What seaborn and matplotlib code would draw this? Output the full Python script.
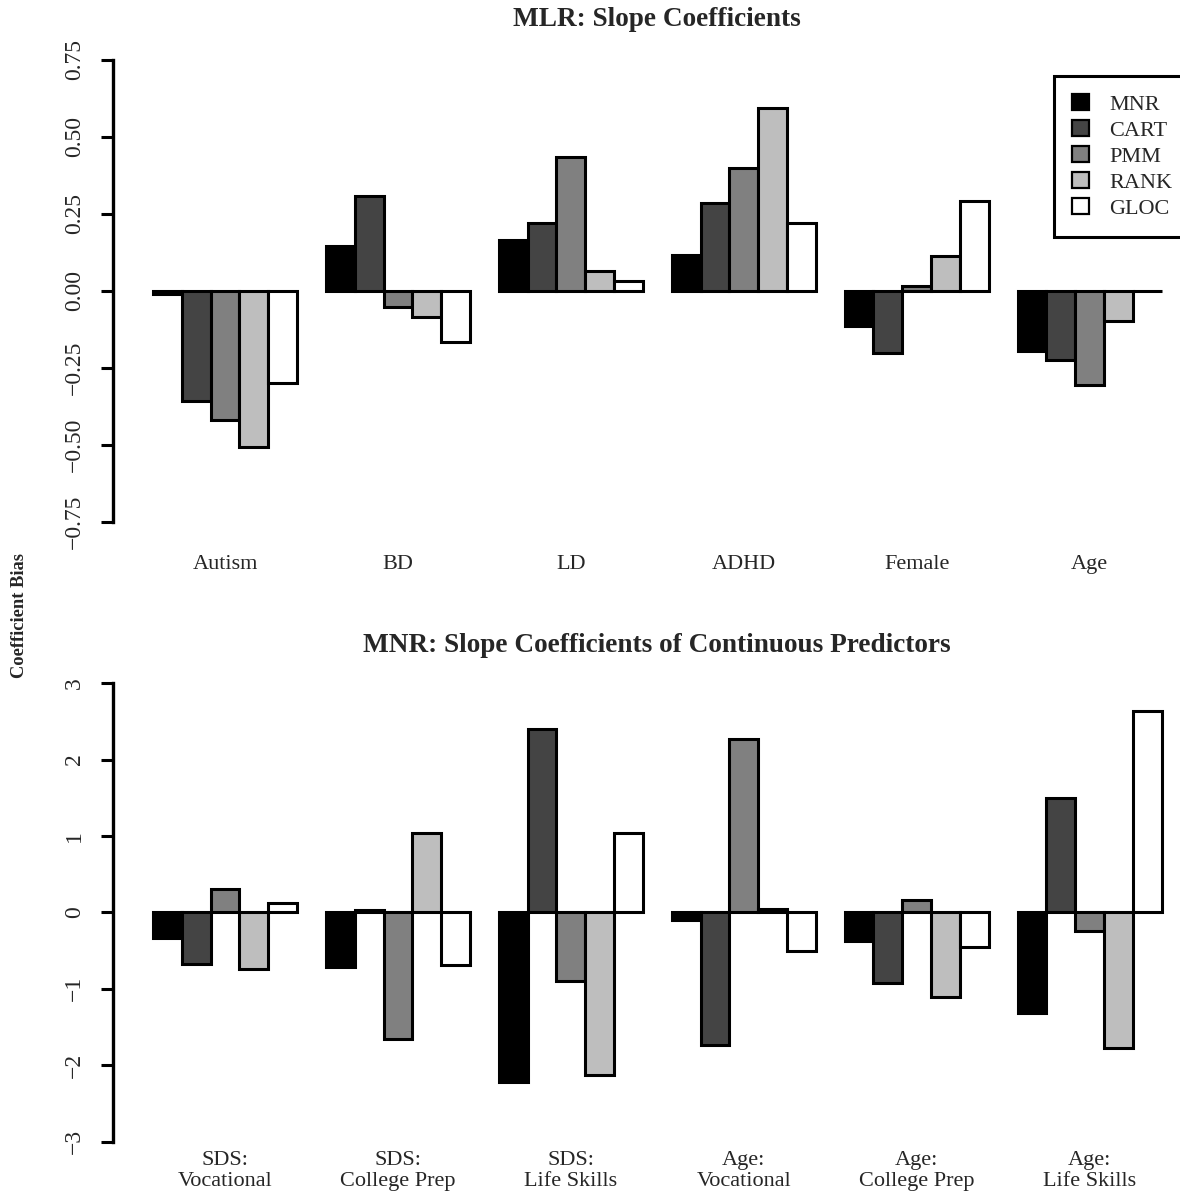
import numpy as np
import pandas as pd
import matplotlib
matplotlib.use('Agg')
import matplotlib.pyplot as plt
from matplotlib.patches import Patch
import seaborn as sns

# bias values
methods = ["MNR", "CART", "PMM", "RANK", "GLOC"]
method_colors = ["#000000", "#444444", "#808080", "#BEBEBE", "#FFFFFF"]

mlr_predictors = ["Autism", "BD", "LD", "ADHD", "Female", "Age"]
mlr_mnr = [-0.01, 0.145, 0.164, 0.116, -0.114, -0.195]
mlr_cart = [-0.358, 0.308, 0.219, 0.286, -0.203, -0.225]
mlr_pmm = [-0.42, -0.052, 0.434, 0.398, 0.015, -0.308]
mlr_rank = [-0.509, -0.087, 0.065, 0.592, 0.113, -0.098]
mlr_gloc = [-0.30, -0.166, 0.03, 0.221, 0.292, 0.0]

mnr_predictors = ["SDS:\nVocational", "SDS:\nCollege Prep", "SDS:\nLife Skills",
                  "Age:\nVocational", "Age:\nCollege Prep", "Age:\nLife Skills"]
mnr_mnr = [-0.34, -0.72, -2.224, -0.10, -0.37, -1.313]
mnr_cart = [-0.68, 0.03, 2.403, -1.736, -0.92, 1.491]
mnr_pmm = [0.30, -1.657, -0.898, 2.263, 0.161, -0.244]
mnr_rank = [-0.746, 1.038, -2.128, 0.04, -1.112, -1.779]
mnr_gloc = [0.118, -0.693, 1.034, -0.50, -0.458, 2.634]

mlr_ticks = [-0.75, -0.5, -0.25, 0, 0.25, 0.5, 0.75]
mlr_ticklabels = ["\u22120.75", "\u22120.50", "\u22120.25", "0.00", "0.25", "0.50", "0.75"]
mnr_ticks = [-3, -2, -1, 0, 1, 2, 3]
mnr_ticklabels = ["\u22123", "\u22122", "\u22121", "0", "1", "2", "3"]


def to_long(predictors, series):
    rows = []
    for m, vals in zip(methods, series):
        for p, v in zip(predictors, vals):
            rows.append({"predictor": p, "method": m, "bias": v})
    return pd.DataFrame(rows)


mlr_df = to_long(mlr_predictors, [mlr_mnr, mlr_cart, mlr_pmm, mlr_rank, mlr_gloc])
mnr_df = to_long(mnr_predictors, [mnr_mnr, mnr_cart, mnr_pmm, mnr_rank, mnr_gloc])

sns.set_style("white")
plt.rcParams['font.family'] = ['Liberation Serif', 'DejaVu Serif']

W, H = 1180, 1204
fig = plt.figure(figsize=(W / 100, H / 100), dpi=100)

FS = 16
FS_Y = 17
left = 112.7 / W
width = (1202 - 112.7) / W


def draw_panel(ax, df, order, ticks, ticklabels, lim, span, label_pad, linespacing=1.2):
    sns.barplot(data=df, x="predictor", y="bias", hue="method", order=order,
                hue_order=methods, palette=method_colors, saturation=1,
                width=5 / 6, edgecolor="black", linewidth=2.2, errorbar=None,
                legend=False, ax=ax)
    ax.set_xlim(-0.65, 5.65)
    ax.set_ylim(-lim, lim)
    for s in ["top", "right", "bottom"]:
        ax.spines[s].set_visible(False)
    ax.spines["left"].set_bounds(-span, span)
    ax.spines["left"].set_linewidth(2.4)
    ax.spines["left"].set_color("black")
    ax.set_yticks(ticks)
    ax.set_yticklabels(ticklabels, rotation=90, va="center", ha="center", fontsize=FS_Y)
    ax.tick_params(axis="y", left=True, length=8.6, width=2.2, color="black", pad=19)
    ax.tick_params(axis="x", bottom=False, length=0, pad=label_pad)
    ax.set_xticks(range(len(order)))
    ax.set_xticklabels(order, fontsize=FS, va="center", linespacing=linespacing)
    ax.set_xlabel("")
    ax.set_ylabel("")
    ax.grid(False)


ax1 = fig.add_axes([left, 1 - 540 / H, width, (540 - 41.2) / H])
draw_panel(ax1, mlr_df, mlr_predictors, mlr_ticks, mlr_ticklabels, 0.81, 0.75, 17.3)

ax2 = fig.add_axes([left, 1 - 1159.9 / H, width, (1159.9 - 664.8) / H])
draw_panel(ax2, mnr_df, mnr_predictors, mnr_ticks, mnr_ticklabels, 3.24, 3, 8.0, 1.15)

handles = [Patch(facecolor=c, edgecolor="black", linewidth=1.6) for c in method_colors]
leg = ax1.legend(handles, methods, loc="upper left",
                 bbox_to_anchor=(1054 / W, 1 - 76 / H), bbox_transform=fig.transFigure,
                 borderaxespad=0, fontsize=FS, handlelength=0.78, handleheight=0.78,
                 handletextpad=0.9, labelspacing=0.22, borderpad=0.8,
                 fancybox=False, framealpha=1, edgecolor="black")
leg.get_frame().set_linewidth(2.2)

fig.text(657 / W, 1 - 20 / H, "MLR: Slope Coefficients", ha="center", va="center",
         fontsize=19.6, fontweight="bold")
fig.text(657 / W, 1 - 645 / H, "MNR: Slope Coefficients of Continuous Predictors",
         ha="center", va="center", fontsize=19.6, fontweight="bold")
fig.text(20 / W, 1 - 615 / H, "Coefficient Bias", ha="center", va="center",
         rotation=90, fontsize=13.3, fontweight="bold")

fig.savefig("out.png", dpi=100)
